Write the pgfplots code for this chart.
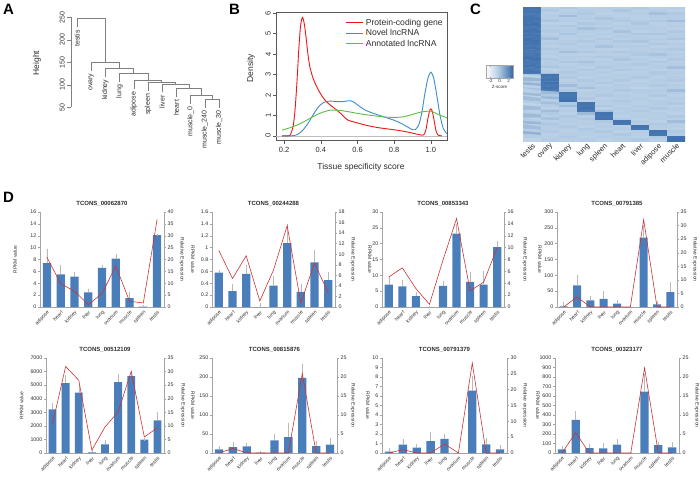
\documentclass[border=0pt]{standalone}
\usepackage{pgfplots}
\usepackage{pgfplotstable}
\pgfplotsset{compat=1.18}
\usepackage{fontspec}
\setmainfont{Liberation Sans}
\definecolor{barblue}{RGB}{74,126,187}
\definecolor{errgray}{RGB}{185,185,185}
\definecolor{linered}{RGB}{205,50,50}
\definecolor{dred}{RGB}{240,20,20}
\definecolor{dblue}{RGB}{60,140,205}
\definecolor{dgreen}{RGB}{90,190,70}
\definecolor{axgray}{RGB}{165,165,165}
\definecolor{txt}{RGB}{45,45,45}
\newcommand{\fs}[1]{\fontsize{#1}{#1}\selectfont}

\pgfplotsset{
  every axis/.append style={/pgf/number format/assume math mode=true, /pgf/number format/1000 sep={}, scaled ticks=false},
  dcommon/.style={scale only axis, height=95pt, xmin=-0.5, xmax=8.5, ymin=0, clip=false,
     axis line style={axgray, line width=0.4pt}, tick style={axgray, line width=0.4pt},
     major tick length=2pt, tick align=outside,
     y tick label style={font=\fs{5.3}, text=txt, inner sep=1.5pt}},
  dleft/.style={dcommon, axis y line*=left, axis x line*=bottom,
     xtick={0,...,8}, xticklabels={adipose,heart,kidney,liver,lung,ovarium,muscle,spleen,testis},
     xtick style={draw=none},
     x tick label style={rotate=45, anchor=north east, font=\fs{5}, text=txt, inner sep=0.8pt},
     title style={font=\fs{6}\bfseries, text=txt, yshift=-4pt}},
  dright/.style={dcommon, axis y line*=right, axis x line=none, ytick pos=right},
  bars/.style={ybar, bar width=0.6, fill=barblue, draw=none,
     error bars/.cd, y dir=plus, y explicit,
     error bar style={errgray, line width=0.5pt},
     error mark options={errgray, line width=0.5pt, mark size=1.3pt}},
  rline/.style={linered, line width=0.6pt, mark=none},
}

\pgfplotstableread{
x b e r
0 7.4 2.15 21
1 5.5 1.35 9.8
2 5.1 0.6 6.7
3 2.45 0.3 1.0
4 6.6 0.25 5.6
5 8.15 0.55 17.3
6 1.5 0.8 2.4
7 0.05 0.1 1.7
8 12.1 0 36.9
}\tA
\pgfplotstableread{
x b e r
0 0.577 0.03 10.7
1 0.266 0.10 5.4
2 0.56 0.13 9.7
3 0.0 0.045 1.15
4 0.36 0.14 7.0
5 1.074 0.31 15.4
6 0.254 0.11 0.76
7 0.75 0.19 8.3
8 0.452 0.12 2.7
}\tB
\pgfplotstableread{
x b e r
0 7.05 2.45 5.05
1 6.5 1.6 6.6
2 3.4 1.0 3.1
3 0 0 0.45
4 6.7 1.1 7.9
5 23.2 2.6 14.9
6 7.9 2.6 2.7
7 7.05 3.85 4.2
8 18.9 1.6 10.0
}\tC
\pgfplotstableread{
x b e r
0 2 10.6 0
1 68 30 3.7
2 21 10.6 0
3 26 19 0
4 10.5 8.5 0
5 0 0 0
6 219 36 32.2
7 8.4 6.6 0
8 47 27 0
}\tD
\pgfplotstableread{
x b e r
0 3218 343 10.8
1 5158 516 31.9
2 4446 540 26.8
3 40 107 1.1
4 639 221 9.6
5 5232 491 15.1
6 5674 221 30.1
7 982 0 5.9
8 2407 491 9.3
}\tE
\pgfplotstableread{
x b e r
0 9.6 6.2 0
1 15.8 10.5 1.2
2 17.5 5.3 0
3 1 2 0
4 33.3 13.2 0
5 42 33.4 0
6 197.4 33.3 20.9
7 18.4 10.6 0
8 21.9 13.1 0
}\tF
\pgfplotstableread{
x b e r
0 0.14 0.21 0
1 0.88 0.5 1.06
2 0.57 0.21 0
3 1.24 0.88 0
4 1.48 0.39 2.86
5 0 0 0
6 6.57 1.38 28.4
7 0.92 0.56 0
8 0.39 0.32 0
}\tG
\pgfplotstableread{
x b e r
0 38 21 0
1 350 80 5.3
2 52 25 0
3 49 38 0
4 87 46 0
5 0 0 0
6 647 168 22.4
7 84 17 0
8 59 39 0
}\tH

\begin{document}
\begin{tikzpicture}
\useasboundingbox (0,0) rectangle (700pt,-476pt);

% ---------------- Panel A ----------------
\begin{axis}[at={(71pt,-107.3pt)}, anchor=south west, scale only axis, width=152pt, height=90pt,
  xmin=0.577, xmax=11.28, ymin=50, ymax=250, clip=false,
  axis x line=none, axis y line*=left, ytick={50,100,150,200,250},
  axis line style={gray, line width=0.5pt}, tick style={gray, line width=0.5pt},
  major tick length=4pt, tick align=outside,
  y tick label style={rotate=90, anchor=south, font=\fs{7}, text=txt, inner sep=2pt}]
\addplot[gray, line width=0.6pt] coordinates {(1,228) (1,247) (2.998,247) (2.998,150.5)};
\addplot[gray, line width=0.6pt] coordinates {(2,131.5) (2,150.5) (3.996,150.5) (3.996,137)};
\addplot[gray, line width=0.6pt] coordinates {(3,118) (3,137) (4.99,137) (4.99,125)};
\addplot[gray, line width=0.6pt] coordinates {(4,106) (4,125) (5.985,125) (5.985,110)};
\addplot[gray, line width=0.6pt] coordinates {(5,91) (5,110) (6.97,110) (6.97,105)};
\addplot[gray, line width=0.6pt] coordinates {(6,86) (6,105) (7.94,105) (7.94,102)};
\addplot[gray, line width=0.6pt] coordinates {(7,83) (7,102) (8.875,102) (8.875,92)};
\addplot[gray, line width=0.6pt] coordinates {(8,73) (8,92) (9.75,92) (9.75,77)};
\addplot[gray, line width=0.6pt] coordinates {(9,58) (9,77) (10.5,77) (10.5,68)};
\addplot[gray, line width=0.6pt] coordinates {(10,49) (10,68) (11,68) (11,49)};
\begin{scope}[every node/.style={rotate=90, anchor=east, font=\fs{7}, text=txt, inner sep=1pt}]
\node at (axis cs:1,224) {testis};
\node at (axis cs:2,127.5) {ovary};
\node at (axis cs:3,114) {kidney};
\node at (axis cs:4,102) {lung};
\node at (axis cs:5,87) {adipose};
\node at (axis cs:6,82) {spleen};
\node at (axis cs:7,79) {liver};
\node at (axis cs:8,69) {heart};
\node at (axis cs:9,54) {muscle\_0};
\node at (axis cs:10,45) {muscle\_240};
\node at (axis cs:11,45) {muscle\_30};
\end{scope}
\end{axis}
\node[rotate=90, font=\fs{8.5}, text=txt] at (37pt,-63pt) {Height};
\node[font=\fs{15}\bfseries, anchor=north west, inner sep=0pt] at (3pt,-4pt) {A};

% ---------------- Panel B ----------------
\begin{axis}[at={(276pt,-140.7pt)}, anchor=south west, scale only axis, width=171pt, height=128pt,
  xmin=0.156, xmax=1.088, ymin=-0.24, ymax=6.03,
  xtick={0.2,0.4,0.6,0.8,1.0}, xticklabels={0.2,0.4,0.6,0.8,1.0}, ytick={0,1,2,3,4,5,6},
  xtick pos=bottom, ytick pos=left, tick align=outside, major tick length=3pt,
  axis line style={black!65, line width=0.5pt}, tick style={black!65, line width=0.5pt},
  tick label style={font=\fs{7.5}, text=txt},
  y tick label style={rotate=90, anchor=south, inner sep=2pt},
  legend style={at={(1,1)}, anchor=north east, xshift=-1pt, yshift=-3pt, draw=none, fill=none,
     font=\fs{8.6}, text=txt, row sep=-1.2pt, inner sep=1pt},
  legend cell align=left,
  legend image code/.code={\draw[#1] (0pt,0pt) -- (17pt,0pt);}]
\addplot[gray!50, line width=0.5pt, forget plot] coordinates {(0.156,0) (1.088,0)};
\addplot[dred, line width=0.9pt, smooth, tension=0.4] coordinates {
(0.19,0) (0.225,0) (0.235,0.05) (0.25,0.5) (0.26,1.3) (0.27,2.6) (0.28,4.2) (0.29,5.4) (0.30,5.8)
(0.31,5.5) (0.32,4.8) (0.33,4.0) (0.34,3.4) (0.355,2.9) (0.37,2.55) (0.39,2.2) (0.41,1.9)
(0.43,1.68) (0.45,1.52) (0.47,1.38) (0.49,1.24) (0.51,1.08) (0.53,0.9) (0.55,0.76) (0.58,0.68)
(0.62,0.58) (0.67,0.47) (0.72,0.39) (0.77,0.33) (0.82,0.27) (0.87,0.19) (0.91,0.11) (0.94,0.05)
(0.96,0.04) (0.972,0.25) (0.983,0.8) (0.993,1.22) (1.0,1.32) (1.007,1.22) (1.017,0.8) (1.028,0.25)
(1.04,0.03) (1.06,0)};
\addplot[dblue, line width=0.9pt, smooth, tension=0.4] coordinates {
(0.19,0) (0.24,0) (0.27,0.05) (0.30,0.25) (0.33,0.6) (0.36,1.05) (0.39,1.45) (0.42,1.65)
(0.45,1.7) (0.48,1.68) (0.51,1.67) (0.54,1.7) (0.56,1.72) (0.58,1.65) (0.61,1.45) (0.64,1.27)
(0.68,1.12) (0.72,1.0) (0.76,0.88) (0.80,0.76) (0.84,0.6) (0.87,0.45) (0.895,0.32) (0.915,0.3)
(0.935,0.55) (0.952,1.2) (0.968,2.1) (0.985,2.85) (1.0,3.12) (1.015,2.85) (1.032,2.0)
(1.05,1.0) (1.068,0.35) (1.088,0.1)};
\addplot[dgreen, line width=0.9pt, smooth, tension=0.5] coordinates {
(0.19,0.28) (0.25,0.45) (0.30,0.65) (0.35,0.9) (0.40,1.12) (0.45,1.25) (0.50,1.25) (0.55,1.18)
(0.60,1.1) (0.65,1.03) (0.70,0.97) (0.75,0.92) (0.80,0.9) (0.85,0.93) (0.90,1.05) (0.95,1.17)
(1.0,1.2) (1.04,1.05) (1.088,0.88)};
\legend{Protein-coding gene, Novel lncRNA, Annotated lncRNA}
\end{axis}
\node[rotate=90, font=\fs{8.5}, text=txt] at (251pt,-68pt) {Density};
\node[font=\fs{8.5}, text=txt] at (361pt,-167pt) {Tissue specificity score};
\node[font=\fs{15}\bfseries, anchor=north west, inner sep=0pt] at (229pt,-4pt) {B};

% ---------------- Panel C ----------------
\begin{axis}[at={(523pt,-141pt)}, anchor=south west, scale only axis, width=162pt, height=134pt,
  xmin=-0.5, xmax=8.5, ymin=-0.5, ymax=51.5, enlargelimits=false,
  axis line style={draw=none}, ytick=\empty, xtick={0,...,8}, xtick style={draw=none},
  xticklabels={testis,ovary,kidney,lung,spleen,heart,liver,adipose,muscle},
  x tick label style={rotate=45, anchor=north east, font=\fs{7.5}, text=txt, inner sep=1pt},
  colormap={hm}{rgb255(0pt)=(255,255,255); rgb255(45pt)=(180,204,228); rgb255(100pt)=(52,104,168)},
  point meta min=-3, point meta max=3,
  colorbar horizontal,
  colorbar style={at={(parent axis.north west)}, anchor=north east, xshift=-10pt, yshift=-50pt,
     width=27pt, height=13pt, xtick={-2,0,2},
     axis line style={gray!70, line width=0.3pt}, tick style={gray!70},
     major tick length=1.5pt, tick align=inside,
     x tick label style={font=\fs{4.5}, text=txt, inner sep=1pt},
     xlabel={Z-score}, xlabel style={font=\fs{4.5}, text=txt, inner sep=1pt}}]
\addplot[matrix plot*, mesh/cols=9, point meta=explicit]
 table[x expr={mod(\coordindex,9)}, y expr={51-floor(\coordindex/9)}, meta=z, row sep=\\] {
z\\
2.6\\-0.4\\-0.2\\-0.5\\-0.3\\-0.4\\-0.2\\-0.5\\-0.3\\
2.5\\-0.2\\-0.5\\-0.3\\-0.4\\-0.1\\-0.4\\-0.3\\-0.5\\
2.6\\-0.5\\-0.3\\-0.2\\-0.5\\-0.4\\-0.3\\0.1\\-0.2\\
2.4\\-0.3\\0.2\\-0.4\\-0.3\\-0.5\\-0.4\\-0.3\\-0.4\\
2.6\\-0.4\\-0.4\\-0.3\\-0.1\\-0.3\\-0.5\\-0.4\\-0.3\\
2.5\\-0.1\\-0.3\\-0.5\\-0.4\\-0.2\\-0.3\\-0.2\\0.2\\
2.6\\-0.6\\-0.5\\-0.2\\-0.3\\-0.5\\-0.1\\-0.5\\-0.4\\
2.7\\-0.3\\-0.2\\-0.4\\-0.5\\-0.3\\-0.4\\-0.4\\-0.3\\
2.5\\-0.4\\-0.4\\0.1\\-0.2\\-0.4\\-0.3\\-0.3\\-0.5\\
2.6\\-0.2\\-0.3\\-0.3\\-0.4\\0.0\\-0.5\\-0.4\\-0.2\\
2.4\\-0.5\\-0.1\\-0.5\\-0.3\\-0.4\\-0.2\\-0.1\\-0.4\\
2.6\\-0.3\\-0.4\\-0.3\\-0.5\\-0.3\\-0.4\\-0.5\\-0.3\\
2.5\\0.1\\-0.5\\-0.4\\-0.2\\-0.5\\-0.3\\-0.3\\-0.1\\
2.7\\-0.4\\-0.3\\-0.2\\-0.4\\-0.2\\-0.1\\-0.4\\-0.5\\
2.6\\-0.3\\-0.2\\-0.5\\-0.3\\-0.4\\-0.5\\-0.2\\-0.3\\
2.5\\-0.5\\-0.4\\-0.3\\0.0\\-0.3\\-0.3\\-0.5\\-0.4\\
2.6\\-0.2\\-0.3\\-0.4\\-0.5\\-0.5\\-0.4\\-0.3\\-0.2\\
2.4\\-0.4\\0.1\\-0.2\\-0.3\\-0.2\\-0.3\\-0.4\\-0.5\\
2.6\\-0.3\\-0.5\\-0.5\\-0.4\\-0.4\\-0.2\\0.0\\-0.3\\
2.5\\-0.5\\-0.3\\-0.3\\-0.2\\-0.3\\-0.5\\-0.3\\-0.4\\
2.7\\-0.2\\-0.4\\-0.4\\-0.5\\-0.1\\-0.3\\-0.5\\-0.2\\
2.6\\-0.4\\-0.2\\0.0\\-0.3\\-0.5\\-0.4\\-0.2\\-0.5\\
2.5\\-0.3\\-0.5\\-0.3\\-0.4\\-0.3\\-0.2\\-0.4\\-0.3\\
2.6\\-0.1\\-0.3\\-0.5\\-0.2\\-0.4\\-0.5\\-0.3\\0.1\\
2.4\\-0.5\\-0.4\\-0.2\\-0.5\\-0.2\\-0.3\\-0.5\\-0.4\\
2.6\\-0.3\\-0.2\\-0.4\\-0.3\\-0.5\\-0.4\\-0.2\\-0.3\\
0.2\\2.6\\-0.4\\-0.3\\-0.5\\-0.3\\-0.4\\-0.3\\-0.4\\
-0.6\\2.5\\-0.2\\-0.5\\-0.3\\-0.4\\-0.2\\-0.5\\-0.3\\
0.4\\2.6\\-0.5\\-0.2\\-0.4\\-0.2\\-0.5\\-0.3\\-0.2\\
-0.3\\2.7\\-0.3\\-0.4\\-0.2\\-0.5\\-0.3\\-0.4\\-0.5\\
0.5\\2.5\\0.2\\-0.3\\-0.5\\-0.3\\-0.4\\-0.2\\-0.3\\
-0.5\\2.6\\-0.4\\0.1\\-0.3\\-0.4\\-0.6\\-0.5\\-0.4\\
0.1\\2.4\\-0.2\\-0.5\\-0.4\\-0.2\\-0.3\\-0.3\\0.2\\
-0.4\\0.3\\2.6\\-0.3\\-0.4\\-0.5\\-0.3\\-0.4\\-0.3\\
0.3\\-0.2\\2.5\\-0.4\\-0.2\\-0.3\\-0.5\\-0.2\\-0.5\\
-0.6\\0.4\\2.6\\-0.2\\-0.5\\-0.4\\-0.3\\-0.5\\-0.3\\
0.2\\-0.4\\2.7\\-0.5\\-0.3\\-0.2\\-0.4\\-0.3\\-0.4\\
-0.3\\0.1\\-0.2\\2.6\\-0.4\\-0.3\\-0.5\\-0.3\\-0.2\\
-0.7\\-0.3\\0.3\\2.5\\-0.2\\-0.5\\-0.3\\-0.4\\-0.5\\
0.2\\-0.5\\-0.4\\2.6\\-0.5\\-0.3\\-0.4\\-0.2\\-0.3\\
-0.5\\0.2\\-0.3\\2.4\\0.1\\-0.4\\-0.2\\-0.5\\-0.4\\
-0.4\\-0.2\\-0.5\\0.3\\2.6\\-0.3\\-0.4\\-0.3\\-0.5\\
0.3\\-0.4\\-0.2\\-0.4\\2.5\\-0.5\\-0.3\\-0.4\\-0.2\\
-0.6\\0.1\\-0.4\\-0.2\\2.6\\-0.2\\-0.5\\-0.3\\-0.4\\
-0.3\\-0.5\\-0.3\\-0.4\\-0.2\\2.6\\-0.3\\-0.5\\0.2\\
0.4\\-0.2\\-0.5\\-0.3\\-0.4\\2.5\\-0.4\\-0.2\\-0.3\\
-0.5\\-0.3\\-0.2\\-0.5\\-0.3\\-0.4\\2.6\\-0.3\\-0.4\\
0.2\\-0.4\\-0.4\\-0.2\\-0.5\\-0.3\\2.5\\-0.4\\-0.5\\
-0.4\\-0.2\\-0.5\\-0.3\\-0.2\\-0.5\\-0.3\\2.6\\-0.2\\
0.6\\-0.5\\-0.3\\-0.4\\-0.4\\-0.2\\-0.4\\2.5\\-0.3\\
-0.3\\-0.4\\-0.2\\-0.5\\-0.3\\-0.4\\-0.5\\-0.2\\2.6\\
-0.6\\-0.3\\-0.4\\-0.3\\-0.5\\-0.3\\-0.2\\-0.4\\2.7\\
};
\end{axis}
\node[font=\fs{15}\bfseries, anchor=north west, inner sep=0pt] at (470pt,-4pt) {C};

% ---------------- Panel D ----------------
\node[font=\fs{15}\bfseries, anchor=north west, inner sep=0pt] at (3pt,-192pt) {D};

% chart 1
\begin{axis}[dleft, at={(40pt,-307pt)}, anchor=south west, width=124pt, ymax=16, ytick={0,2,...,16}, title={TCONS\_00062870}]
\addplot[bars] table[x=x,y=b,y error=e] {\tA};
\end{axis}
\begin{axis}[dright, at={(40pt,-307pt)}, anchor=south west, width=124pt, ymax=40, ytick={0,5,...,40}]
\addplot[rline] table[x=x,y=r] {\tA};
\end{axis}
% chart 2
\begin{axis}[dleft, at={(212pt,-307pt)}, anchor=south west, width=123pt, ymax=1.6, ytick={0,0.2,0.4,0.6,0.8,1,1.2,1.4,1.6}, title={TCONS\_00244288}]
\addplot[bars] table[x=x,y=b,y error=e] {\tB};
\end{axis}
\begin{axis}[dright, at={(212pt,-307pt)}, anchor=south west, width=123pt, ymax=18, ytick={0,2,...,18}]
\addplot[rline] table[x=x,y=r] {\tB};
\end{axis}
% chart 3
\begin{axis}[dleft, at={(382pt,-307pt)}, anchor=south west, width=122pt, ymax=30, ytick={0,5,...,30}, title={TCONS\_00853343}]
\addplot[bars] table[x=x,y=b,y error=e] {\tC};
\end{axis}
\begin{axis}[dright, at={(382pt,-307pt)}, anchor=south west, width=122pt, ymax=16, ytick={0,2,...,16}]
\addplot[rline] table[x=x,y=r] {\tC};
\end{axis}
% chart 4
\begin{axis}[dleft, at={(557pt,-307pt)}, anchor=south west, width=120pt, ymax=300, ytick={0,50,...,300}, title={TCONS\_00791385}]
\addplot[bars] table[x=x,y=b,y error=e] {\tD};
\end{axis}
\begin{axis}[dright, at={(557pt,-307pt)}, anchor=south west, width=120pt, ymax=35, ytick={0,5,...,35}]
\addplot[rline] table[x=x,y=r] {\tD};
\end{axis}
% chart 5
\begin{axis}[dleft, at={(46pt,-453pt)}, anchor=south west, width=118pt, ymax=7000, ytick={0,1000,...,7000}, title={TCONS\_00512109}]
\addplot[bars] table[x=x,y=b,y error=e] {\tE};
\end{axis}
\begin{axis}[dright, at={(46pt,-453pt)}, anchor=south west, width=118pt, ymax=35, ytick={0,5,...,35}]
\addplot[rline] table[x=x,y=r] {\tE};
\end{axis}
% chart 6
\begin{axis}[dleft, at={(212pt,-453pt)}, anchor=south west, width=125pt, ymax=250, ytick={0,50,...,250}, title={TCONS\_00815876}]
\addplot[bars] table[x=x,y=b,y error=e] {\tF};
\end{axis}
\begin{axis}[dright, at={(212pt,-453pt)}, anchor=south west, width=125pt, ymax=25, ytick={0,5,...,25}]
\addplot[rline] table[x=x,y=r] {\tF};
\end{axis}
% chart 7
\begin{axis}[dleft, at={(382pt,-453pt)}, anchor=south west, width=125pt, ymax=10, ytick={0,1,...,10}, title={TCONS\_00791379}]
\addplot[bars] table[x=x,y=b,y error=e] {\tG};
\end{axis}
\begin{axis}[dright, at={(382pt,-453pt)}, anchor=south west, width=125pt, ymax=30, ytick={0,5,...,30}]
\addplot[rline] table[x=x,y=r] {\tG};
\end{axis}
% chart 8
\begin{axis}[dleft, at={(555pt,-453pt)}, anchor=south west, width=124pt, ymax=1000, ytick={0,100,...,1000}, title={TCONS\_00323177}]
\addplot[bars] table[x=x,y=b,y error=e] {\tH};
\end{axis}
\begin{axis}[dright, at={(555pt,-453pt)}, anchor=south west, width=124pt, ymax=25, ytick={0,5,...,25}]
\addplot[rline] table[x=x,y=r] {\tH};
\end{axis}

% axis titles of panel D
\begin{scope}[every node/.style={font=\fs{5}, text=txt, inner sep=0pt}]
\node[rotate=90] at (15pt,-259.5pt) {RPKM value};
\node[rotate=-90] at (182pt,-259.5pt) {Relative Expression};
\node[rotate=-90] at (193pt,-259.5pt) {RPKM value};
\node[rotate=-90] at (353pt,-259.5pt) {Relative Expression};
\node[rotate=-90] at (370pt,-259.5pt) {RPKM value};
\node[rotate=-90] at (525pt,-259.5pt) {Relative Expression};
\node[rotate=-90] at (540pt,-259.5pt) {RPKM value};
\node[rotate=-90] at (695pt,-259.5pt) {Relative Expression};
\node[rotate=90] at (21.7pt,-405.5pt) {RPKM value};
\node[rotate=-90] at (183pt,-405.5pt) {Relative Expression};
\node[rotate=-90] at (193pt,-405.5pt) {RPKM value};
\node[rotate=-90] at (353pt,-405.5pt) {Relative Expression};
\node[rotate=-90] at (368pt,-405.5pt) {RPKM value};
\node[rotate=-90] at (525pt,-405.5pt) {Relative expression};
\node[rotate=-90] at (538pt,-405.5pt) {RPKM value};
\node[rotate=-90] at (697pt,-405.5pt) {Relative Expression};
\end{scope}
\end{tikzpicture}
\end{document}
